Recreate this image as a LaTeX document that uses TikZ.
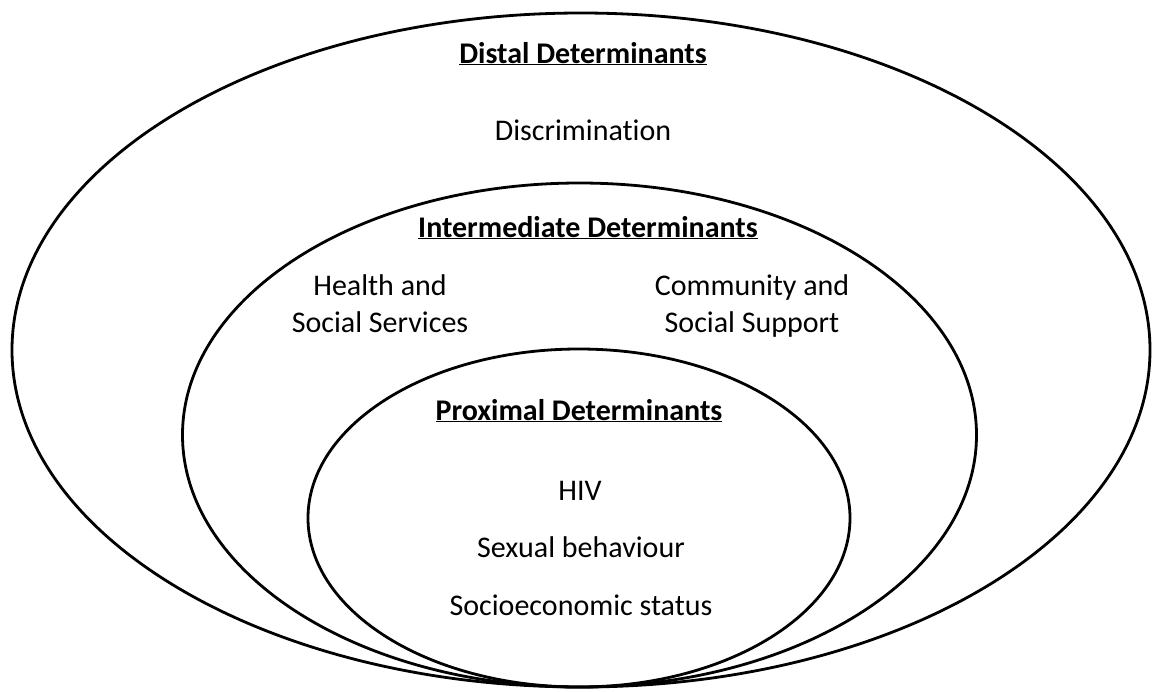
\documentclass[tikz,border=0pt]{standalone}
\usepackage{fontspec}
\setmainfont[RawFeature=-liga]{Carlito}
\begin{document}
\begin{tikzpicture}[x=1pt,y=-1pt,
  ring/.style={draw=black,line width=2.8pt},
  lbl/.style={font=\fontsize{30}{37}\selectfont,align=center,inner sep=0pt,anchor=base},
  head/.style={font=\fontsize{30}{37}\selectfont\bfseries,inner sep=0pt,anchor=base}]
\useasboundingbox (0,0) rectangle (1154,691);
\draw[ring] (581,350) ellipse [x radius=569, y radius=337];
\draw[ring] (579.5,435) ellipse [x radius=397, y radius=252];
\draw[ring] (579,518) ellipse [x radius=271, y radius=169];
\node[head] (distal) at (583,63) {\underline{Distal Determinants}};
\node[lbl] (discr) at (583,140) {Discrimination};
\node[head] (inter) at (588,237) {\underline{Intermediate Determinants}};
\node[lbl] (health) at (380,332) {Health and\\Social Services};
\node[lbl] (comm) at (752,332) {Community and\\Social Support};
\node[head] (prox) at (579,420) {\underline{Proximal Determinants}};
\node[lbl] (hiv) at (580,500) {HIV};
\node[lbl] (sex) at (581,557) {Sexual behaviour};
\node[lbl] (ses) at (581,615) {Socioeconomic status};
\end{tikzpicture}
\end{document}
